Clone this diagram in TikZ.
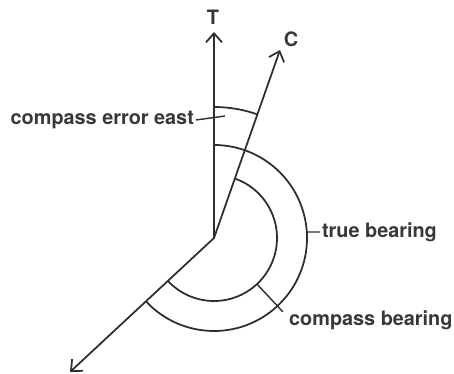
\documentclass[tikz,border=0pt]{standalone}
\usepackage{fontspec}
\setmainfont{TeX Gyre Heros}
\usepackage{tikz}
\usetikzlibrary{arrows.meta, calc}
\definecolor{InkA}{HTML}{2E2E30}
\definecolor{InkB}{HTML}{38383C}
\tikzset{
  line/.style={draw=InkA, line width=1pt, line cap=round},
  vec/.style={line, -{Straight Barb[length=1.8mm, width=3.2mm, line width=1pt]}},
  lead/.style={draw=InkA, line width=0.8pt},
  lbl/.style={font=\fontsize{11.3}{13}\selectfont\bfseries, text=InkB, inner sep=1pt},
}

\begin{document}
\begin{tikzpicture}[x=0.02cm, y=0.02cm]
  \useasboundingbox (0,0) rectangle (454,374);
  \coordinate (O) at (214,136);
  \coordinate (Ttip) at (214,342);
  \coordinate (Ctip) at (280,324);
  \coordinate (Stip) at (70,2);
  \node[lbl] (Tlbl) at (213,357) {T};
  \node[lbl] (Clbl) at (291,335) {C};
  \node[lbl, anchor=east] (errlbl) at (196,254) {compass error east};
  \node[lbl, anchor=west] (tblbl)  at (320,142) {true bearing};
  \node[lbl, anchor=west] (cblbl)  at (287,54)  {compass bearing};

  \draw[vec] (O) -- (Ttip);
  \draw[vec] (O) -- (Ctip);
  \draw[vec] (O) -- (Stip);

  \draw[line] ($(O)+(90:131)$) arc[start angle=90, end angle=70.7, radius=131];
  \draw[line] ($(O)+(90:93)$) arc[start angle=90, end angle=-136.8, radius=93];
  \draw[line] ($(O)+(70.7:63)$) arc[start angle=70.7, end angle=-136.8, radius=63];

  \coordinate (errpt) at (225,258);
  \coordinate (tbpt) at ($(O)+(3.7:93)$);
  \coordinate (cbpt) at ($(O)+(-47:63)$);
  \coordinate (cbend) at ($(O)+(-47:101)$);
  \draw[lead] (errlbl.east) -- (errpt);
  \draw[lead] (tbpt) -- (tblbl.west);
  \draw[lead] (cbpt) -- (cbend);
\end{tikzpicture}
\end{document}
